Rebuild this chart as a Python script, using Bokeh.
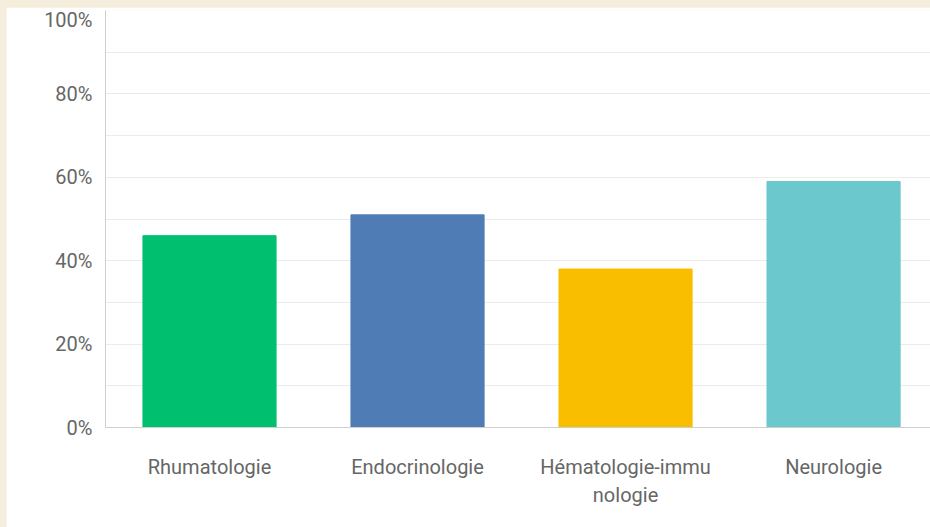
from bokeh.plotting import figure
from bokeh.models import FixedTicker, ColumnDataSource, Range1d
from bokeh.embed import file_html
from bokeh.resources import INLINE

categories = ["Rhumatologie", "Endocrinologie", "Hématologie-immu\nnologie", "Neurologie"]
values = [46, 51, 38, 59]
colors = ["#00BF6F", "#507CB6", "#F9BE00", "#6BC8CD"]
y_ticks = [0, 20, 40, 60, 80, 100]
y_minor = [10, 30, 50, 70, 90]
y_labels = ["0%", "20%", "40%", "60%", "80%", "100%"]

xs = list(range(1, len(categories) + 1))
src = ColumnDataSource(dict(x=xs, top=values, color=colors))

p = figure(width=924, height=520, output_backend="svg", toolbar_location=None,
           x_range=Range1d(0.5, 4.466), y_range=Range1d(0, 100),
           min_border_left=99, min_border_right=0, min_border_top=3, min_border_bottom=100)
p.vbar(x="x", top="top", bottom=0, width=0.64, color="color", source=src)

p.outline_line_color = None
p.background_fill_color = "white"
p.border_fill_color = "white"

font = "Roboto"
p.xaxis.ticker = FixedTicker(ticks=xs)
p.xaxis.major_label_overrides = {x: c for x, c in zip(xs, categories)}
p.xaxis.major_tick_line_color = None
p.xaxis.minor_tick_line_color = None
p.xaxis.axis_line_color = "#CFCFCF"
p.xaxis.major_label_text_font = font
p.xaxis.major_label_text_font_size = "20px"
p.xaxis.major_label_text_color = "#666666"
p.xaxis.major_label_standoff = 21

p.yaxis.ticker = FixedTicker(ticks=y_ticks, minor_ticks=y_minor)
p.yaxis.major_label_overrides = {t: l for t, l in zip(y_ticks, y_labels)}
p.yaxis.major_tick_line_color = None
p.yaxis.minor_tick_line_color = None
p.yaxis.axis_line_color = "#CFCFCF"
p.yaxis.major_label_text_font = font
p.yaxis.major_label_text_font_size = "20px"
p.yaxis.major_label_text_color = "#666666"
p.yaxis.major_label_text_baseline = "top"
p.yaxis.major_label_standoff = 7

p.xgrid.grid_line_color = None
p.ygrid.grid_line_color = "#EBEBEB"
p.ygrid.minor_grid_line_color = "#EBEBEB"

html = file_html(p, INLINE)
html = html.replace("</head>",
                    "<style>html,body{background:#F6EEDC;margin:0;padding:0;}"
                    "body{padding:7px 0 0 6px;overflow:hidden;}</style></head>", 1)
open("out.html", "w").write(html)
